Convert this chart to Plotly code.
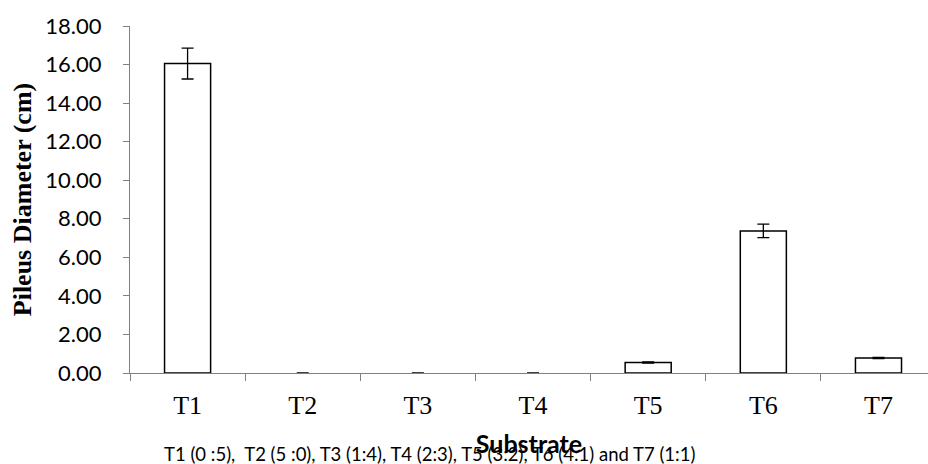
import plotly.graph_objects as go

categories = ["T1", "T2", "T3", "T4", "T5", "T6", "T7"]
pileus_diameter = [16.05, 0.0, 0.0, 0.0, 0.55, 7.37, 0.78]
std_error = [0.80, 0.0, 0.0, 0.0, 0.03, 0.35, 0.03]
y_ticks = [0, 2, 4, 6, 8, 10, 12, 14, 16, 18]
note = "T1 (0 :5),  T2 (5 :0), T3 (1:4), T4 (2:3), T5 (3:2), T6 (4:1) and T7 (1:1)"

outline_widths = [1.5 if v > 0 else 0 for v in pileus_diameter]

fig = go.Figure()
fig.add_trace(go.Bar(
    x=categories, y=pileus_diameter, width=0.4,
    marker=dict(color="white", line=dict(color="black", width=outline_widths)),
    error_y=dict(type="data", array=std_error, visible=True,
                 color="black", thickness=1.3, width=6),
))

fig.update_layout(
    width=928, height=464,
    margin=dict(l=130, r=0, t=26, b=91),
    plot_bgcolor="white", paper_bgcolor="white",
    showlegend=False,
    xaxis=dict(
        range=[-0.5, 6.43], showline=True, linecolor="#808080", linewidth=1.3,
        ticks="outside", ticklen=7, tickcolor="#808080", tickson="boundaries",
        tickfont=dict(family="Liberation Serif", size=26, color="black"),
        ticklabelstandoff=9,
        title=dict(text="<b>Substrate</b>", font=dict(family="Lato", size=25, color="black"),
                   standoff=16),
    ),
    yaxis=dict(
        range=[0, 18], tickvals=y_ticks, tickformat=".2f",
        showline=True, linecolor="#808080", linewidth=1.3, showgrid=False, zeroline=False,
        ticks="outside", ticklen=6, tickcolor="#808080",
        tickfont=dict(family="Lato", size=22, color="black"),
        ticklabelstandoff=17,
        title=dict(text="<b>Pileus Diameter (cm)</b>",
                   font=dict(family="Liberation Serif", size=26, color="black"),
                   standoff=6),
    ),
    annotations=[dict(
        text=note, xref="paper", yref="paper", x=(429 - 130) / 798, y=-(454 - 373) / 347,
        xanchor="center", yanchor="middle", showarrow=False,
        font=dict(family="Lato", size=18.5, color="black"),
    )],
)

fig.write_html("out.html")
